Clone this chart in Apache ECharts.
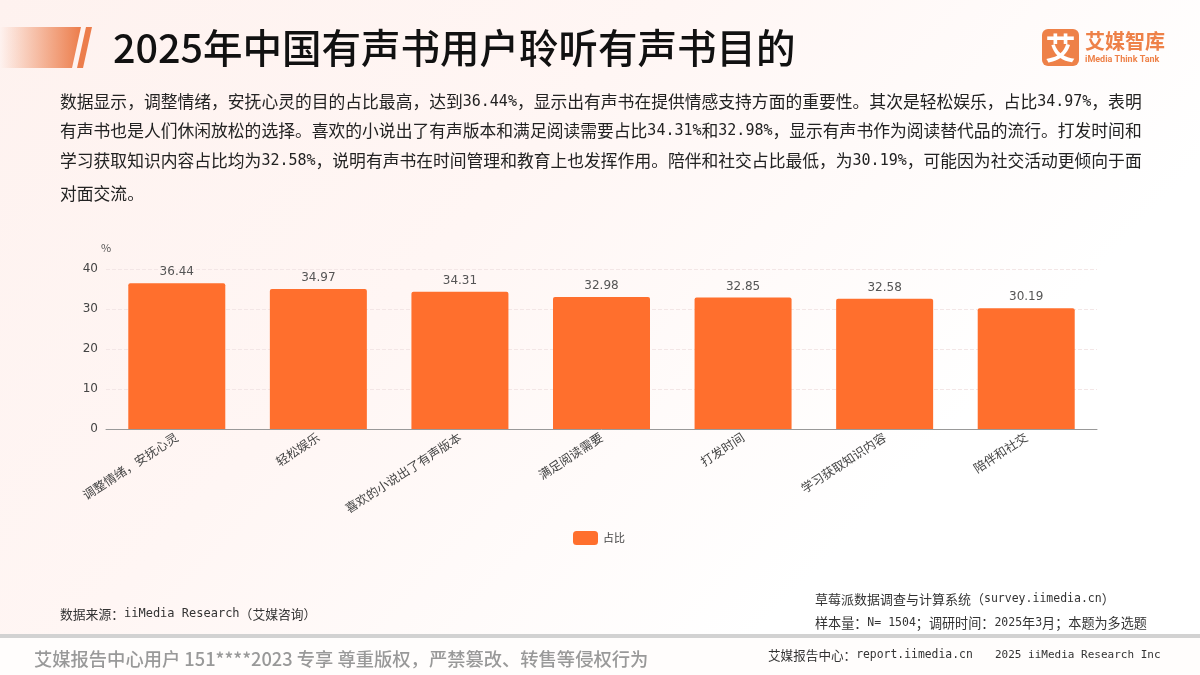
<!DOCTYPE html>
<html>
<head>
<meta charset="utf-8">
<script src="https://cdn.jsdelivr.net/npm/echarts@6/dist/echarts.min.js"></script>
<style>
  html, body { margin: 0; padding: 0; background: #fff; }
  #grafica { width: 1200px; height: 675px; }
</style>
</head>
<body>
<div id="grafica"></div>
<script>
const categorias = ["调整情绪\uff0c安抚心灵", "轻松娱乐", "喜欢的小说出了有声版本", "满足阅读需要", "打发时间", "学习获取知识内容", "陪伴和社交"];
const valores = [36.44, 34.97, 34.31, 32.98, 32.85, 32.58, 30.19];
const ticks = [0, 10, 20, 30, 40];
const titulo = "2025年中国有声书用户聆听有声书目的";
const parrafo = [
  "数据显示\uff0c调整情绪\uff0c安抚心灵的目的占比最高\uff0c达到36.44%\uff0c显示出有声书在提供情感支持方面的重要性。其次是轻松娱乐\uff0c占比34.97%\uff0c表明",
  "有声书也是人们休闲放松的选择。喜欢的小说出了有声版本和满足阅读需要占比34.31%和32.98%\uff0c显示有声书作为阅读替代品的流行。打发时间和",
  "学习获取知识内容占比均为32.58%\uff0c说明有声书在时间管理和教育上也发挥作用。陪伴和社交占比最低\uff0c为30.19%\uff0c可能因为社交活动更倾向于面",
  "对面交流。"
];

const CJK = '"Noto Sans CJK SC", sans-serif';
const MONO = '"DejaVu Sans Mono", monospace';

const texto = (x, y, text, fontSize, fill, extra) => ({
  type: "text",
  silent: true,
  x: x,
  y: y,
  style: Object.assign({ text: text, fontSize: fontSize, fill: fill, fontFamily: CJK, textVerticalAlign: "middle" }, extra || {}),
});

// el original usa latinas monoespaciadas junto al chino
const mixto = (x, y, text, fontSize, latSize, fill, extra) =>
  texto(x, y, text.replace(/[A-Za-z0-9.%= ]+/g, (m) => "{n|" + m + "}"), fontSize, fill, Object.assign({
    rich: { n: { fontFamily: MONO, fontSize: latSize, fill: fill } },
  }, extra || {}));

const getGraphic = () => {
  const lineasY = [102, 131, 161, 194];
  const elementos = [
    // franja naranja del titulo
    {
      type: "polygon",
      silent: true,
      shape: { points: [[0, 27], [81, 27], [72, 68], [0, 68]] },
      style: {
        fill: new echarts.graphic.LinearGradient(0, 0, 1, 0, [
          { offset: 0, color: "rgba(236,125,75,0)" },
          { offset: 1, color: "#ec7d4b" },
        ]),
      },
    },
    {
      type: "polygon",
      silent: true,
      shape: { points: [[86, 27], [92, 27], [83, 68], [77, 68]] },
      style: { fill: "#ec7d4b" },
    },
    texto(113, 48, titulo, 39.5, "#111", { fontWeight: 500 }),

    // logo
    {
      type: "rect",
      silent: true,
      shape: { x: 1042, y: 29, width: 37, height: 37, r: 6 },
      style: { fill: "#ee8148" },
    },
    texto(1060.5, 48, "艾", 30, "#fff", { textAlign: "center", fontWeight: 700 }),
    texto(1085, 41, "艾媒智库", 20, "#ee8148", { fontWeight: 700 }),
    texto(1085, 60, "iMedia Think Tank", 9, "#ee8148", { fontWeight: 700, fontFamily: "Roboto, sans-serif" }),

    // fuente y pie
    mixto(60, 614, "数据来源\uff1aiiMedia Research\uff08艾媒咨询\uff09", 12.8, 12, "#333"),
    mixto(815, 599, "草莓派数据调查与计算系统\uff08survey.iimedia.cn\uff09", 13, 11.5, "#333"),
    mixto(815, 623, "样本量\uff1aN= 1504\uff1b调研时间\uff1a2025年3月\uff1b本题为多选题", 13.1, 11.5, "#333"),
    {
      type: "rect",
      silent: true,
      shape: { x: 0, y: 634, width: 1200, height: 4 },
      style: { fill: "#d2d2d2" },
    },
    {
      type: "rect",
      silent: true,
      z: -1,
      shape: { x: 0, y: 638, width: 1200, height: 37 },
      style: { fill: "#fffdfc" },
    },
    texto(34, 659, "艾媒报告中心用户 151****2023 专享 尊重版权\uff0c严禁篡改、转售等侵权行为", 18.3, "#999", { fontWeight: 500 }),
    mixto(768, 655, "艾媒报告中心\uff1areport.iimedia.cn", 12.6, 11.4, "#333"),
    texto(995, 655, "2025 iiMedia Research Inc", 11, "#333", { fontFamily: MONO }),
  ];
  parrafo.forEach((linea, i) => {
    elementos.push(mixto(60, lineasY[i], linea, 16.8, 15, "#222"));
  });
  return elementos;
};

const getOptionChart = () => {
  return {
    animation: false,
    backgroundColor: new echarts.graphic.LinearGradient(0, 0, 0.6, 1, [
      { offset: 0, color: "#fef2ef" },
      { offset: 0.5, color: "#fff6f4" },
      { offset: 1, color: "#ffffff" },
    ]),
    textStyle: { fontFamily: CJK },
    grid: { left: 106, right: 103, top: 269, bottom: 246 },
    legend: {
      left: 568,
      top: 526,
      itemWidth: 25,
      itemHeight: 14,
      itemGap: 5,
      textStyle: { fontSize: 11, color: "#444", fontFamily: CJK },
      data: ["占比"],
    },
    xAxis: {
      type: "category",
      data: categorias,
      axisTick: { show: false },
      axisLine: { lineStyle: { color: "#999", width: 1 } },
      axisLabel: { rotate: 33, interval: 0, fontSize: 12.3, color: "#444", margin: 7 },
    },
    yAxis: {
      type: "value",
      min: ticks[0],
      max: ticks[ticks.length - 1],
      interval: 10,
      name: "%",
      nameGap: 16,
      nameLocation: "end",
      nameTextStyle: { fontSize: 11, color: "#555", align: "center" },
      axisLine: { show: false },
      axisTick: { show: false },
      axisLabel: { fontSize: 12, color: "#444", margin: 8, fontFamily: "'DejaVu Sans', sans-serif" },
      splitLine: { lineStyle: { color: "#f3e6e6", type: "dashed" } },
    },
    series: [
      {
        name: "占比",
        type: "bar",
        data: valores,
        barWidth: 97,
        itemStyle: { color: "#ff6f2d", borderRadius: [2, 2, 0, 0] },
        label: {
          show: true,
          position: "top",
          distance: 5,
          fontSize: 12,
          color: "#555",
          fontFamily: "'DejaVu Sans', sans-serif",
          formatter: (p) => p.value.toFixed(2),
        },
      },
    ],
    graphic: getGraphic(),
  };
};

const chart = echarts.init(document.querySelector("#grafica"));
chart.setOption(getOptionChart());
</script>
</body>
</html>
